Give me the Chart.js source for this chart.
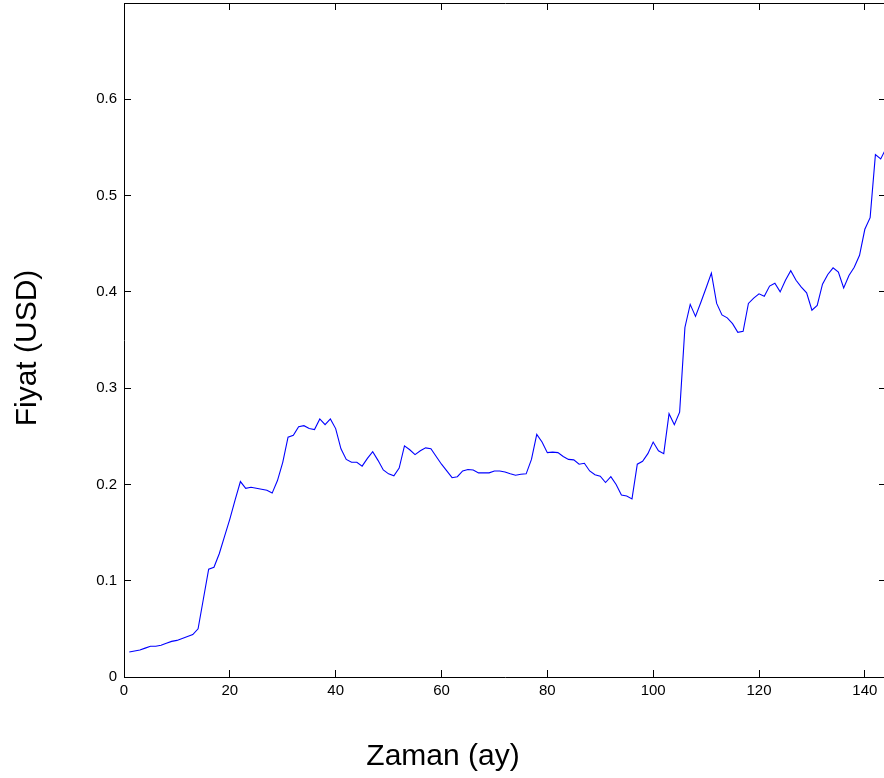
<!DOCTYPE html>
<html>
<head>
<meta charset="utf-8">
<script src="https://cdn.jsdelivr.net/npm/chart.js@4.4.1/dist/chart.umd.min.js"></script>
<style>
  html, body { margin: 0; padding: 0; background: #fff; overflow: hidden; }
  #wrap { width: 884px; height: 778px; overflow: hidden; }
  canvas { display: block; }
</style>
</head>
<body>
<div id="wrap"><canvas id="c" width="900" height="778"></canvas></div>
<script>
// Monthly price series (USD), months 1..144
const price = [
  0.026, 0.027, 0.028, 0.030, 0.032, 0.032, 0.033, 0.035, 0.037, 0.038, 0.040, 0.042,
  0.044, 0.050, 0.081, 0.112, 0.114, 0.128, 0.146, 0.164, 0.184, 0.203, 0.196, 0.197,
  0.196, 0.195, 0.194, 0.191, 0.204, 0.223, 0.249, 0.251, 0.260, 0.261, 0.258, 0.257,
  0.268, 0.262, 0.268, 0.258, 0.237, 0.226, 0.223, 0.223, 0.219, 0.227, 0.234, 0.225,
  0.215, 0.211, 0.209, 0.217, 0.240, 0.236, 0.231, 0.235, 0.238, 0.237, 0.229, 0.221,
  0.214, 0.207, 0.208, 0.214, 0.2155, 0.215, 0.212, 0.212, 0.212, 0.214, 0.214, 0.213,
  0.211, 0.2095, 0.2105, 0.211, 0.226, 0.252, 0.244, 0.233, 0.2335, 0.233, 0.229, 0.226,
  0.2255, 0.221, 0.222, 0.214, 0.210, 0.2085, 0.202, 0.208, 0.200, 0.189, 0.188, 0.185,
  0.221, 0.224, 0.232, 0.244, 0.235, 0.232, 0.2735, 0.262, 0.275, 0.363, 0.387, 0.3745,
  0.389, 0.404, 0.4195, 0.388, 0.376, 0.373, 0.367, 0.358, 0.359, 0.388, 0.3935, 0.398,
  0.3955, 0.406, 0.409, 0.400, 0.412, 0.422, 0.412, 0.405, 0.399, 0.381, 0.386, 0.408,
  0.418, 0.425, 0.4205, 0.404, 0.417, 0.4255, 0.438, 0.465, 0.477, 0.5425, 0.538, 0.549
];
const months = price.map((_, i) => i + 1);

const xTicks = [0, 20, 40, 60, 80, 100, 120, 140];
const yTicks = [0, 0.1, 0.2, 0.3, 0.4, 0.5, 0.6];
const yTickLabels = ['0', '0.1', '0.2', '0.3', '0.4', '0.5', '0.6'];

const xTitle = 'Zaman (ay)';
const yTitle = 'Fiyat (USD)';

const FONT = '"Liberation Sans", Arial, Helvetica, sans-serif';

// inward tick marks, MATLAB style box
const tickGrid = { drawOnChartArea: false, drawTicks: true, tickLength: -7, tickColor: '#000', tickWidth: 1 };
const frame = { display: true, color: '#000', width: 1 };
const setTicks = list => scale => { scale.ticks = list.map(v => ({ value: v })); };

// fixed box sizes; label overhang must not shrink the plot area
const fixSize = (key, size) => scale => {
  scale[key] = size;
  scale.paddingTop = 0;
  scale.paddingBottom = 0;
  scale.paddingLeft = 0;
  scale.paddingRight = 0;
};

// axis captions placed under / beside the plot box
const captions = {
  id: 'captions',
  afterDraw(chart) {
    const ctx = chart.ctx;
    ctx.save();
    ctx.fillStyle = '#000';
    ctx.font = '30px ' + FONT;
    ctx.textAlign = 'center';
    ctx.textBaseline = 'middle';
    ctx.fillText(xTitle, 443, 757);
    ctx.translate(28, 348);
    ctx.rotate(-Math.PI / 2);
    ctx.fillText(yTitle, 0, 0);
    ctx.restore();
  }
};

const bg = {
  id: 'bg',
  beforeDraw(chart) {
    const ctx = chart.ctx;
    ctx.save();
    ctx.fillStyle = '#fff';
    ctx.fillRect(0, 0, chart.width, chart.height);
    ctx.restore();
  }
};

new Chart(document.getElementById('c'), {
  type: 'line',
  data: {
    datasets: [{
      data: months.map((m, i) => ({ x: m, y: price[i] })),
      borderColor: '#0000ff',
      borderWidth: 1.1,
      pointRadius: 0,
      tension: 0,
      fill: false
    }]
  },
  options: {
    responsive: false,
    animation: false,
    devicePixelRatio: 1,
    layout: { padding: 0 },
    plugins: { legend: { display: false }, tooltip: { enabled: false } },
    scales: {
      x: {
        type: 'linear', position: 'bottom', min: 0, max: 144,
        afterBuildTicks: setTicks(xTicks),
        afterFit: fixSize('height', 101),
        grid: tickGrid, border: frame,
        ticks: { padding: 12, color: '#000', font: { family: FONT, size: 15 }, maxRotation: 0, autoSkip: false }
      },
      x2: {
        type: 'linear', position: 'top', min: 0, max: 144,
        afterBuildTicks: setTicks(xTicks),
        afterFit: fixSize('height', 3),
        grid: tickGrid, border: frame,
        ticks: { display: false }
      },
      y: {
        type: 'linear', position: 'left', min: 0, max: 0.7,
        afterBuildTicks: setTicks(yTicks),
        afterFit: fixSize('width', 124),
        grid: tickGrid, border: frame,
        ticks: {
          padding: 14, color: '#000', font: { family: FONT, size: 15 }, autoSkip: false,
          callback: (v, i) => yTickLabels[i]
        }
      },
      y2: {
        type: 'linear', position: 'right', min: 0, max: 0.7,
        afterBuildTicks: setTicks(yTicks),
        afterFit: fixSize('width', 14),
        grid: tickGrid, border: frame,
        ticks: { display: false }
      }
    }
  },
  plugins: [bg, captions]
});
</script>
</body>
</html>
